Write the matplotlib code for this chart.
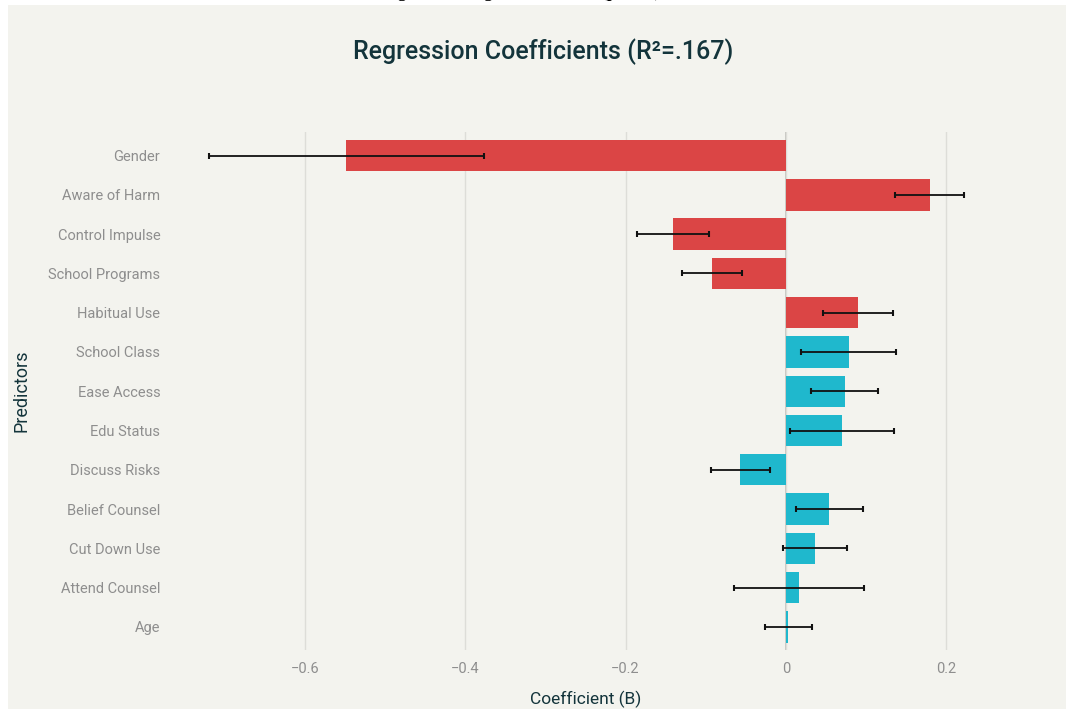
import numpy as np
import matplotlib.pyplot as plt
from matplotlib.patches import Rectangle

plt.rcParams['font.family'] = ['Roboto', 'DejaVu Sans']

# regression coefficients, top to bottom
predictors = ['Gender', 'Aware of Harm', 'Control Impulse', 'School Programs',
              'Habitual Use', 'School Class', 'Ease Access', 'Edu Status',
              'Discuss Risks', 'Belief Counsel', 'Cut Down Use',
              'Attend Counsel', 'Age']
coef = [-0.548, 0.179, -0.141, -0.092, 0.090, 0.078, 0.073, 0.070,
        -0.057, 0.054, 0.036, 0.016, 0.003]
err = [0.172, 0.043, 0.045, 0.037, 0.044, 0.059, 0.042, 0.065,
       0.037, 0.042, 0.040, 0.081, 0.029]
significant = [True, True, True, True, True, False, False, False,
               False, False, False, False, False]

red = '#DB4545'
cyan = '#1FB8CD'
bg = '#F3F3EE'
dark = '#13343B'

fig = plt.figure(figsize=(10.66, 7.13), dpi=100)
fig.patch.set_facecolor('white')

# caption above the panel, mostly hidden behind it
fig.text(0.49, 1.004, 'Significant Regression Results (p<0.05)',
         ha='center', va='baseline', fontsize=12, fontweight='bold',
         family='Liberation Serif', color='black', zorder=0)
fig.patches.append(Rectangle((8 / 1066, 4 / 713), 1 - 8 / 1066, 1 - 9 / 713,
                             transform=fig.transFigure, facecolor=bg,
                             edgecolor='none', zorder=1))

ax = fig.add_axes([0.1595, 0.0877, 0.8208, 0.7272])
ax.set_zorder(2)
ax.patch.set_alpha(0)

y = np.arange(len(predictors))
colors = [red if s else cyan for s in significant]
ax.barh(y, coef, height=0.8, color=colors, zorder=2)
ax.errorbar(coef, y, xerr=err, fmt='none', ecolor='#111111', elinewidth=1.3,
            capsize=2, capthick=1.5, zorder=3)

ax.set_xlim(-0.768, 0.323)
ax.set_ylim(len(predictors) - 0.4, -0.6)
ax.set_yticks(y)
ax.set_yticklabels(predictors)
ax.set_xticks([-0.6, -0.4, -0.2, 0, 0.2])
ax.set_xticklabels(['\u22120.6', '\u22120.4', '\u22120.2', '0', '0.2'])

ax.grid(axis='x', color='#DDDDD8', linewidth=1, zorder=0)
ax.axvline(0, color='#BDBDB8', linewidth=1.2, zorder=1)
for s in ax.spines.values():
    s.set_visible(False)
ax.tick_params(axis='both', length=0, labelsize=10.5, colors='#8E8E8E')
ax.tick_params(axis='y', pad=7)
ax.tick_params(axis='x', pad=8)

ax.set_xlabel('Coefficient (B)', fontsize=12.5, color=dark)
ax.xaxis.set_label_coords(0.475, -0.078)
ax.set_ylabel('Predictors', fontsize=13, color=dark)
ax.yaxis.set_label_coords(-0.16, 0.5)

fig.text(0.51, 0.928, 'Regression Coefficients (R\u00b2=.167)', ha='center',
         va='center', fontsize=18, fontweight='medium', color=dark, zorder=3)

fig.savefig('out.png', dpi=100)
